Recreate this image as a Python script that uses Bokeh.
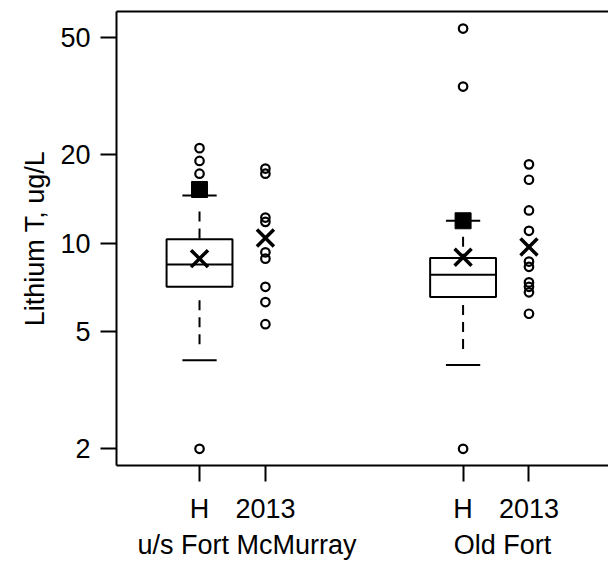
from bokeh.plotting import figure
from bokeh.models import FixedTicker, LinearAxis, Range1d
from bokeh.embed import file_html
from bokeh.resources import INLINE

# ---- data ----
sites = ["u/s Fort McMurray", "Old Fort"]
tick_labels = ["H", "2013", "H", "2013"]
y_ticks = [2, 5, 10, 20, 50]

# historical (H) box statistics, one value per site
hist_low = [4.0, 3.85]
hist_q1 = [7.1, 6.55]
hist_med = [8.45, 7.8]
hist_q3 = [10.3, 8.9]
hist_high = [14.5, 11.9]
hist_mean = [8.85, 8.95]
hist_square = [15.2, 11.9]
hist_outliers_site1 = [21.0, 19.0, 17.2, 2.0]
hist_outliers_site2 = [53.5, 34.0, 2.0]

# 2013 observations
obs2013_site1 = [17.9, 17.2, 12.2, 11.8, 9.3, 8.85, 7.1, 6.3, 5.3]
obs2013_site2 = [18.5, 16.4, 12.9, 11.0, 8.65, 8.3, 7.35, 7.1, 6.8, 5.75]
mean2013 = [10.4, 9.7]

# ---- layout positions (not data) ----
hist_pos = [1, 5]
cur_pos = [2, 6]
tick_pos = [1, 2, 5, 6]
site_label_pos = [1.72, 5.6]
box_half = 0.5
cap_half = 0.26

FONT = "Liberation Sans"
FS = "27px"

p = figure(width=608, height=563, output_backend="svg", toolbar_location=None,
           y_axis_type="log",
           x_range=Range1d(-0.26, 7.207), y_range=Range1d(1.755, 61.15),
           min_border_left=116, min_border_right=0, min_border_top=11,
           min_border_bottom=98)
p.outline_line_color = None
p.xgrid.visible = False
p.ygrid.visible = False
p.background_fill_color = "white"
p.border_fill_color = "white"

# y axis
ya = p.yaxis[0]
ya.ticker = FixedTicker(ticks=y_ticks)
ya.major_label_overrides = {v: str(v) for v in y_ticks}
ya.minor_tick_line_color = None
ya.major_tick_out = 16
ya.major_tick_in = 0
ya.major_tick_line_width = 2
ya.axis_line_width = 2
ya.major_label_standoff = 10
ya.major_label_text_font = FONT
ya.major_label_text_font_size = FS
ya.major_label_text_color = "black"
ya.axis_label = "Lithium T, ug/L"
ya.axis_label_text_font = FONT
ya.axis_label_text_font_size = FS
ya.axis_label_text_font_style = "normal"
ya.axis_label_text_color = "black"
ya.axis_label_standoff = 7

# x axis (period ticks)
xa = p.xaxis[0]
xa.ticker = FixedTicker(ticks=tick_pos)
xa.major_label_overrides = {t: l for t, l in zip(tick_pos, tick_labels)}
xa.minor_tick_line_color = None
xa.major_tick_out = 16
xa.major_tick_in = 0
xa.major_tick_line_width = 2
xa.axis_line_width = 2
xa.major_label_standoff = 12
xa.major_label_text_font = FONT
xa.major_label_text_font_size = FS
xa.major_label_text_color = "black"

# second axis below for site names
sa = LinearAxis(ticker=FixedTicker(ticks=site_label_pos),
                major_label_overrides={t: s for t, s in zip(site_label_pos, sites)},
                axis_line_color=None, major_tick_line_color=None,
                minor_tick_line_color=None, major_tick_out=0, major_tick_in=0,
                major_label_standoff=3, major_label_text_font=FONT,
                major_label_text_font_size=FS, major_label_text_color="black")
p.add_layout(sa, "below")

# top border
ta = LinearAxis(ticker=FixedTicker(ticks=[]), axis_line_width=2,
                major_tick_out=0, major_tick_in=0, minor_tick_line_color=None,
                major_label_standoff=0, major_label_text_font_size="0px")
p.add_layout(ta, "above")

# whiskers (dashed), drawn from cap toward box
dash = "0 16 10 7 10 7 10 20"
p.segment(x0=hist_pos, y0=hist_high, x1=hist_pos, y1=hist_q3,
          line_color="black", line_width=2, line_dash=dash)
p.segment(x0=hist_pos, y0=hist_low, x1=hist_pos, y1=hist_q1,
          line_color="black", line_width=2, line_dash=dash)

# boxes
p.quad(left=[x - box_half for x in hist_pos], right=[x + box_half for x in hist_pos],
       bottom=hist_q1, top=hist_q3, fill_color="white", line_color="black",
       line_width=2)
p.segment(x0=[x - box_half for x in hist_pos], y0=hist_med,
          x1=[x + box_half for x in hist_pos], y1=hist_med,
          line_color="black", line_width=2)

# caps
for vals in (hist_high, hist_low):
    p.segment(x0=[x - cap_half for x in hist_pos], y0=vals,
              x1=[x + cap_half for x in hist_pos], y1=vals,
              line_color="black", line_width=2)

# filled squares
p.scatter(hist_pos, hist_square, marker="square", size=16,
          fill_color="black", line_color="black")

# outliers and 2013 points
out_x = [hist_pos[0]] * len(hist_outliers_site1) + [hist_pos[1]] * len(hist_outliers_site2)
out_y = hist_outliers_site1 + hist_outliers_site2
obs_x = [cur_pos[0]] * len(obs2013_site1) + [cur_pos[1]] * len(obs2013_site2)
obs_y = obs2013_site1 + obs2013_site2
p.scatter(out_x + obs_x, out_y + obs_y, marker="circle", size=8.5,
          fill_color=None, line_color="black", line_width=2.2)

# means
p.scatter(hist_pos + cur_pos, hist_mean + mean2013, marker="x", size=24,
          line_color="black", line_width=3.5)

open("out.html", "w").write(file_html(p, INLINE))
